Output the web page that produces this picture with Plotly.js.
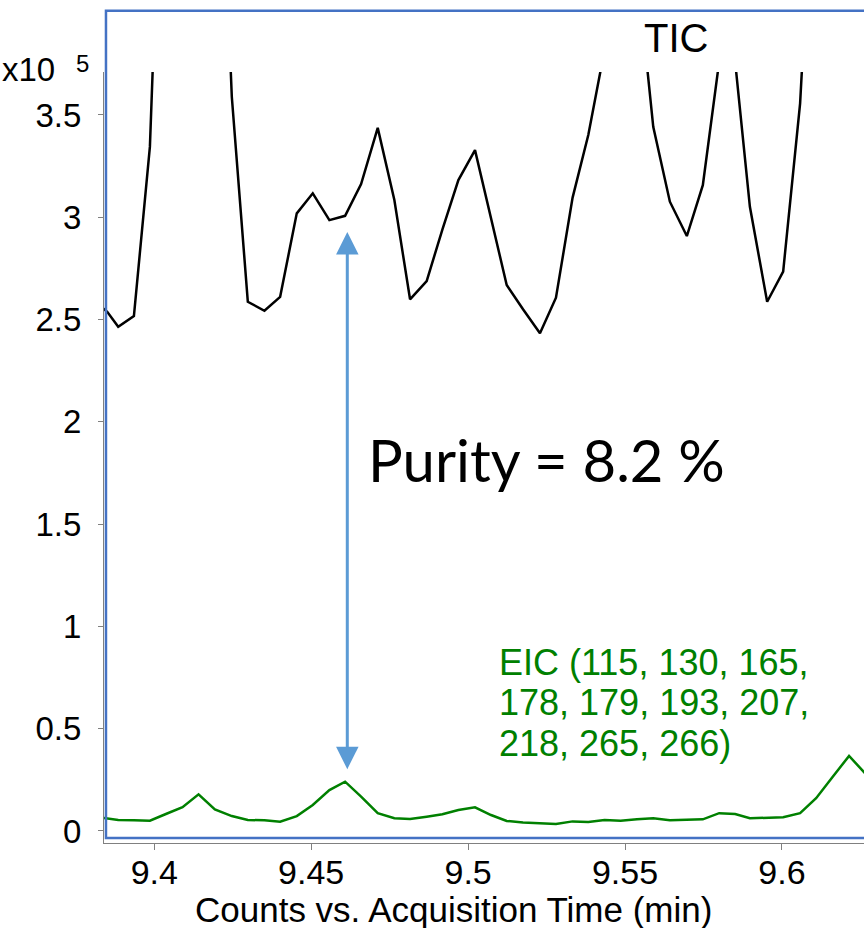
<!DOCTYPE html>
<html>
<head>
<meta charset="utf-8">
<script src="https://cdn.plot.ly/plotly-3.0.1.min.js"></script>
<style>html,body{margin:0;padding:0;background:#fff;}#chart{width:864px;height:928px;}</style>
</head>
<body>
<div id="chart"></div>
<script>
// Acquisition time (min)
const time = [9.3833, 9.3850, 9.3885, 9.3935, 9.3986, 9.4037, 9.4090, 9.4141, 9.4193, 9.4247,
  9.4298, 9.4351, 9.4401, 9.4454, 9.4505, 9.4558, 9.4608, 9.4659, 9.4712, 9.4765,
  9.4815, 9.4868, 9.4918, 9.4969, 9.5022, 9.5073, 9.5123, 9.5175, 9.5229, 9.5280,
  9.5333, 9.5383, 9.5435, 9.5486, 9.5538, 9.5590, 9.5643, 9.5697, 9.5748, 9.5800,
  9.5851, 9.5898, 9.5953, 9.6004, 9.6058, 9.6109, 9.6162, 9.6214, 9.6265];
// TIC counts (x10^5)
const tic = [2.56, 2.538, 2.465, 2.517, 3.345, 5.5, 6.6, 7.0, 5.6, 3.589,
  2.587, 2.543, 2.611, 3.019, 3.117, 2.986, 3.007, 3.162, 3.437, 3.084,
  2.599, 2.688, 2.94, 3.182, 3.328, 3.0, 2.669, 2.55, 2.433, 2.607,
  3.096, 3.402, 3.82, 4.8, 4.22, 3.442, 3.076, 2.908, 3.157, 3.76,
  3.76, 3.051, 2.587, 2.734, 3.557, 5.0, 6.0, 6.5, 7.0];
// EIC counts (x10^5)
const eic = [0.065, 0.062, 0.054, 0.052, 0.050, 0.083, 0.116, 0.179, 0.106, 0.073,
  0.054, 0.052, 0.045, 0.073, 0.127, 0.200, 0.241, 0.168, 0.087, 0.062,
  0.059, 0.070, 0.082, 0.103, 0.116, 0.078, 0.049, 0.041, 0.038, 0.034,
  0.047, 0.044, 0.054, 0.050, 0.057, 0.062, 0.052, 0.055, 0.057, 0.087,
  0.083, 0.062, 0.064, 0.067, 0.087, 0.160, 0.265, 0.367, 0.282];
const xTicks = [9.4, 9.45, 9.5, 9.55, 9.6];
const xTickLabels = ['9.4', '9.45', '9.5', '9.55', '9.6'];
const yTicks = [0, 0.5, 1, 1.5, 2, 2.5, 3, 3.5];
const yTickLabels = ['0', '0.5', '1', '1.5', '2', '2.5', '3', '3.5'];
const arrowTime = 9.4615, arrowTop = 2.935, arrowBottom = 0.302;
const purityText = 'Purity = 8.2 %';
const eicLines = ['EIC (115, 130, 165,', '178, 179, 193, 207,', '218, 265, 266)'];

const F = '"Liberation Sans", Arial, sans-serif';
const traces = [
  {x: time, y: tic, mode: 'lines', line: {color: '#000000', width: 2.5}, name: 'TIC', hoverinfo: 'skip'},
  {x: time, y: eic, mode: 'lines', line: {color: '#008000', width: 2.5}, name: 'EIC', hoverinfo: 'skip'}
];
const annotations = [
  {x: arrowTime, y: arrowBottom, ax: arrowTime, ay: arrowTop, xref: 'x', yref: 'y', axref: 'x', ayref: 'y',
   text: '', showarrow: true, arrowside: 'end+start', arrowhead: 2, arrowsize: 1.5, arrowwidth: 3, arrowcolor: '#5b9bd5'},
  {x: 0.5825, y: 0.498, xref: 'paper', yref: 'paper', text: purityText, showarrow: false,
   xanchor: 'center', yanchor: 'middle', font: {family: 'Lato, "Open Sans", sans-serif', size: 58, color: '#000'}},
  {x: 0.7526, y: 1.044, xref: 'paper', yref: 'paper', text: 'TIC', showarrow: false,
   xanchor: 'center', yanchor: 'middle', font: {family: F, size: 40, color: '#000'}},
  {x: -0.1368, y: 1.0026, xref: 'paper', yref: 'paper', text: 'x10', showarrow: false,
   xanchor: 'left', yanchor: 'middle', font: {family: F, size: 33, color: '#000'}},
  {x: -0.0289, y: 1.0104, xref: 'paper', yref: 'paper', text: '5', showarrow: false,
   xanchor: 'center', yanchor: 'middle', font: {family: F, size: 24, color: '#000'}},
  {x: 0.4605, y: -0.0869, xref: 'paper', yref: 'paper', text: 'Counts vs. Acquisition Time (min)', showarrow: false,
   xanchor: 'center', yanchor: 'middle', font: {family: F, size: 35, color: '#000'}}
];
const eicY = [0.2347, 0.1816, 0.1297];
eicLines.forEach((t, i) => annotations.push({
  x: 0.517, y: eicY[i], xref: 'paper', yref: 'paper', text: t, showarrow: false, align: 'left',
  xanchor: 'left', yanchor: 'middle', font: {family: F, size: 36, color: '#008000'}
}));
const layout = {
  width: 864, height: 928,
  margin: {l: 104, r: 0, t: 72, b: 85},
  paper_bgcolor: '#ffffff', plot_bgcolor: '#ffffff',
  showlegend: false,
  xaxis: {
    range: [9.38397, 9.62616], showgrid: false, zeroline: false,
    showline: true, linecolor: '#808080', linewidth: 1,
    ticks: 'outside', ticklen: 6, tickcolor: '#808080', tickwidth: 1,
    tickvals: xTicks, ticktext: xTickLabels, ticklabelstandoff: -7,
    tickfont: {family: F, size: 34, color: '#000'}
  },
  yaxis: {
    range: [-0.0587, 3.710], showgrid: false, zeroline: false,
    showline: true, linecolor: '#808080', linewidth: 1,
    ticks: 'outside', ticklen: 5, tickcolor: '#808080', tickwidth: 1,
    tickvals: yTicks, ticktext: yTickLabels, ticklabelstandoff: 10,
    tickfont: {family: F, size: 33, color: '#000'}
  },
  shapes: [
    {type: 'rect', xref: 'paper', yref: 'paper', x0: 0.0026, x1: 1.05, y0: 0.0065, y1: 1.0795,
     line: {color: '#4472c4', width: 2.5}, fillcolor: 'rgba(0,0,0,0)', layer: 'above'}
  ],
  annotations: annotations
};
Plotly.newPlot('chart', traces, layout, {displayModeBar: false, staticPlot: true});
</script>
</body>
</html>
